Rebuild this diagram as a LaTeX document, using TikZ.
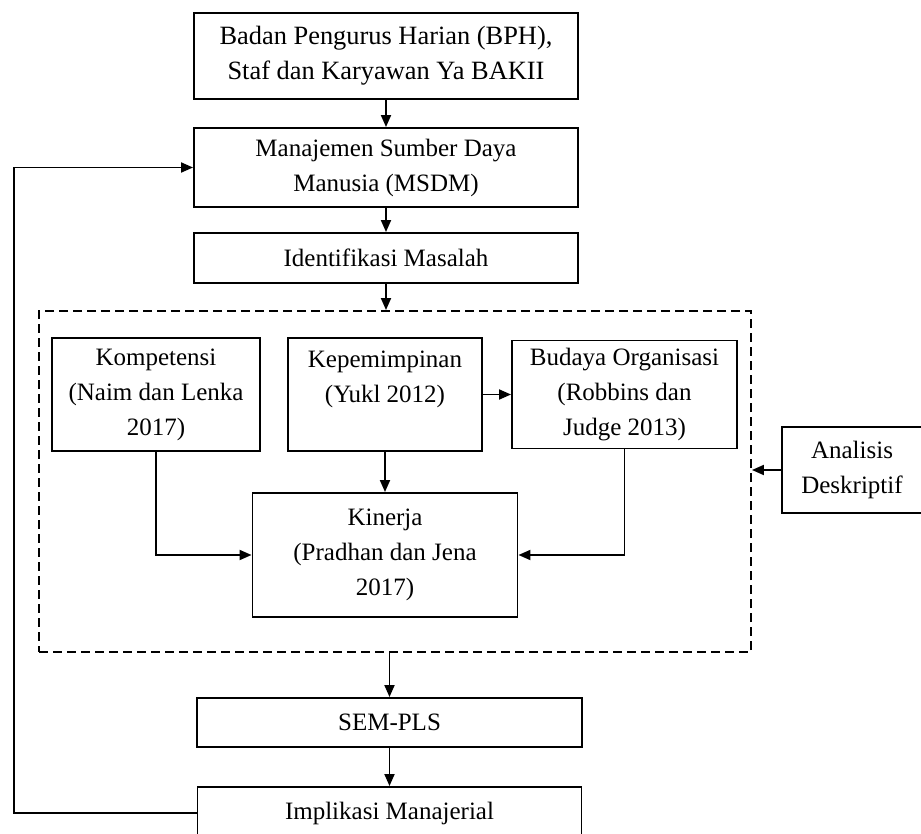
\documentclass[tikz,border=0pt]{standalone}
\usepackage{fontspec}
\setmainfont{Liberation Serif}
\usetikzlibrary{arrows.meta}

\begin{document}
\begin{tikzpicture}[x=0.5pt, y=-0.5pt, >={Triangle[length=6pt, width=5pt]}, line width=0.95pt,
    box/.style={draw, align=center, inner sep=2pt, font=\fontsize{12.5}{17.5}\selectfont},
    dashbox/.style={draw, dash pattern=on 4.5pt off 2.5pt}]
    \useasboundingbox (0,0) rectangle (921,834);

    \node[box, font=\fontsize{13.2}{17.5}\selectfont, minimum width=192pt, minimum height=43pt] (BPH) at (386,56) {Badan Pengurus Harian (BPH),\\ Staf dan Karyawan Ya BAKII};
    \node[box, minimum width=192pt, minimum height=39.5pt] (MSDM) at (386,167.5) {Manajemen Sumber Daya\\ Manusia (MSDM)};
    \node[box, minimum width=192pt, minimum height=25pt] (IM) at (386,258) {Identifikasi Masalah};

    \node[dashbox, minimum width=356pt, minimum height=170.5pt] (FR) at (395,481.5) {};
    \node[box, minimum width=104pt, minimum height=56.5pt] (KOMP) at (156,394.5) {Kompetensi\\ (Naim dan Lenka\\ 2017)};
    \node[box, minimum width=97pt, minimum height=56.5pt] (KEP) at (385,394.5) {Kepemimpinan\\ (Yukl 2012)\\ \mbox{}};
    \node[box, minimum width=112.5pt, minimum height=54pt] (BUD) at (624.5,394.5) {Budaya Organisasi\\ (Robbins dan\\ Judge 2013)};
    \node[box, minimum width=132.5pt, minimum height=62pt] (KIN) at (385,555) {Kinerja\\ (Pradhan dan Jena\\ 2017)};
    \node[box, minimum width=70pt, minimum height=43pt] (AD) at (852,470) {Analisis\\ Deskriptif};

    \node[box, minimum width=192.5pt, minimum height=24.5pt] (SEM) at (389.5,722.5) {SEM-PLS};
    \node[box, minimum width=192pt, minimum height=26pt] (IMP) at (389.5,813) {Implikasi Manajerial};
    \coordinate (FB) at (14,0);

    \draw[->] (BPH) -- (MSDM);
    \draw[->] (MSDM) -- (IM);
    \draw[->] (IM.south) -- (IM.south |- FR.north);
    \draw[->] (KEP) -- (KIN);
    \draw[->] (KEP) -- (BUD);
    \draw[->] (KOMP.south) |- (KIN.west);
    \draw[->] (BUD.south) |- (KIN.east);
    \draw[->] (AD.west) -- (AD.west -| FR.east);
    \draw[->] (SEM.north |- FR.south) -- (SEM.north);
    \draw[->] (SEM) -- (IMP);
    \draw[->] (IMP.west) -- (IMP.west -| FB) |- (MSDM.west);
\end{tikzpicture}
\end{document}
